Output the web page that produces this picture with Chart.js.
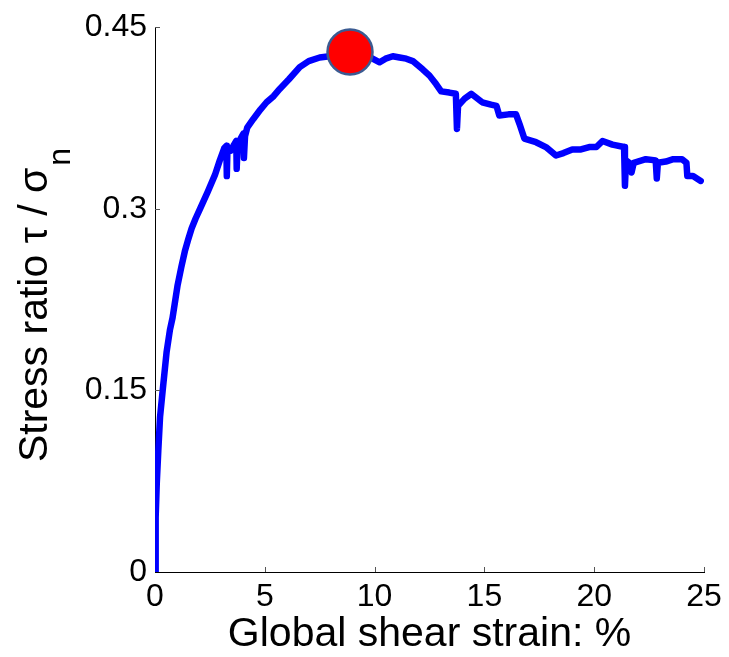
<!DOCTYPE html>
<html>
<head>
<meta charset="utf-8">
<script src="https://cdn.jsdelivr.net/npm/chart.js@4.4.0/dist/chart.umd.min.js"></script>
<style>
  body { margin: 0; background: #fff; }
  canvas { display: block; }
</style>
</head>
<body>
<canvas id="strainChart" width="729" height="657"></canvas>
<script>
// global shear strain (%) and stress ratio
const strain = [0, 0.03, 0.08, 0.15, 0.23, 0.35, 0.53, 0.68, 0.8, 1.03, 1.2, 1.36, 1.5, 1.67, 1.85, 2.05, 2.4, 2.73, 2.95,
  3.15, 3.25, 3.27, 3.3, 3.45, 3.6, 3.7, 3.72, 3.76, 3.9, 4.02, 4.05, 4.1, 4.2, 4.47, 4.8, 5.08,
  5.4, 5.68, 6.1, 6.59, 7.0, 7.5, 7.95, 8.5, 9.2, 9.8, 10.23, 10.5, 10.83, 11.14, 11.44, 11.74,
  12.2, 12.5, 12.8, 13.03, 13.4, 13.7, 13.75, 13.8, 14.1, 14.4, 14.9, 15.3, 15.55, 15.68, 16.1,
  16.44, 16.6, 16.82, 17.35, 17.8, 18.26, 18.6, 19.0, 19.4, 19.77, 20.1, 20.38, 20.83, 21.36,
  21.4, 21.45, 21.6, 21.7, 21.8, 22.35, 22.8, 22.85, 22.9, 23.26, 23.6, 24.0, 24.2, 24.24, 24.5, 24.85];
const stressRatio = [0, 0.045, 0.073, 0.1, 0.128, 0.15, 0.182, 0.2, 0.21, 0.237, 0.252, 0.265, 0.274, 0.284, 0.292, 0.3, 0.314, 0.328, 0.34,
  0.35, 0.352, 0.327, 0.35, 0.348, 0.353, 0.356, 0.333, 0.352, 0.358, 0.362, 0.342, 0.36, 0.367, 0.374, 0.382, 0.388,
  0.393, 0.399, 0.407, 0.417, 0.422, 0.425, 0.426, 0.427, 0.427, 0.425, 0.421, 0.424, 0.426, 0.425, 0.424, 0.422,
  0.415, 0.41, 0.403, 0.397, 0.396, 0.395, 0.366, 0.385, 0.391, 0.395, 0.388, 0.386, 0.385, 0.377, 0.378,
  0.378, 0.37, 0.358, 0.355, 0.351, 0.344, 0.346, 0.349, 0.349, 0.351, 0.351, 0.356, 0.353, 0.351,
  0.319, 0.34, 0.338, 0.33, 0.338, 0.341, 0.34, 0.325, 0.338, 0.339, 0.341, 0.341, 0.338, 0.327, 0.327, 0.323];

// peak marker
const peakStrain = [8.88];
const peakRatio = [0.4295];

const xTicks = [0, 5, 10, 15, 20, 25];
const yTicks = [0, 0.15, 0.3, 0.45];
const yTickLabels = ['0', '0.15', '0.3', '0.45'];

const xTitle = 'Global shear strain: %';
const yTitleMain = 'Stress ratio \u03c4 / \u03c3';
const yTitleSub = 'n';

const fontFamily = '"Liberation Sans", Arial, sans-serif';

// small tick marks pointing into the plot, like matlab
const innerTicks = {
  id: 'innerTicks',
  afterDraw(chart) {
    const ctx = chart.ctx;
    const area = chart.chartArea;
    const xs = chart.scales.x;
    const ys = chart.scales.y;
    ctx.save();
    ctx.strokeStyle = '#555';
    ctx.lineWidth = 1;
    ctx.beginPath();
    xTicks.slice(1).forEach(v => {
      const px = Math.round(xs.getPixelForValue(v)) + 0.5;
      ctx.moveTo(px, area.bottom);
      ctx.lineTo(px, area.bottom - 5);
    });
    yTicks.slice(1).forEach(v => {
      const py = Math.round(ys.getPixelForValue(v)) + 0.5;
      ctx.moveTo(area.left, py);
      ctx.lineTo(area.left + 5, py);
    });
    ctx.stroke();
    ctx.restore();
  }
};

// y title has a subscript, so draw it by hand
const yTitlePlugin = {
  id: 'yTitlePlugin',
  afterDraw(chart) {
    const ctx = chart.ctx;
    ctx.save();
    ctx.fillStyle = '#000';
    ctx.textBaseline = 'alphabetic';
    ctx.font = '41px ' + fontFamily;
    const mainW = ctx.measureText(yTitleMain).width;
    ctx.font = '32px ' + fontFamily;
    const subW = ctx.measureText(yTitleSub).width;
    const total = mainW + 2 + subW;
    ctx.translate(47, 305 + total / 2);
    ctx.rotate(-Math.PI / 2);
    ctx.font = '41px ' + fontFamily;
    ctx.fillText(yTitleMain, 0, 0);
    ctx.font = '32px ' + fontFamily;
    ctx.fillText(yTitleSub, mainW + 2, 23);
    ctx.restore();
  }
};

const ctx = document.getElementById('strainChart').getContext('2d');
new Chart(ctx, {
  type: 'scatter',
  data: {
    datasets: [
      {
        label: 'peak',
        data: peakStrain.map((x, i) => ({ x: x, y: peakRatio[i] })),
        pointRadius: 22.5,
        pointBackgroundColor: '#ff0000',
        pointBorderColor: '#3b5b92',
        pointBorderWidth: 2.5,
        order: 0
      },
      {
        label: 'stress ratio',
        data: strain.map((x, i) => ({ x: x, y: stressRatio[i] })),
        showLine: true,
        borderColor: '#0000ff',
        borderWidth: 6.5,
        borderJoinStyle: 'round',
        borderCapStyle: 'round',
        pointRadius: 0,
        tension: 0,
        order: 1
      }
    ]
  },
  options: {
    responsive: false,
    animation: false,
    layout: {
      padding: { left: 0, right: 24, top: 24, bottom: 0 }
    },
    plugins: {
      legend: { display: false },
      tooltip: { enabled: false }
    },
    scales: {
      x: {
        type: 'linear',
        min: 0,
        max: 25,
        afterBuildTicks: (scale) => { scale.ticks = xTicks.map(v => ({ value: v })); },
        afterFit: (scale) => { scale.height = 85; },
        grid: { display: false, drawTicks: false },
        border: { display: true, color: '#000', width: 1 },
        ticks: {
          padding: 6,
          color: '#000',
          font: { family: fontFamily, size: 32 },
          maxRotation: 0,
          callback: (v) => String(v)
        },
        title: {
          display: true,
          text: xTitle,
          color: '#000',
          font: { family: fontFamily, size: 41, lineHeight: 1.1 },
          padding: { top: 0, bottom: 0 }
        }
      },
      y: {
        type: 'linear',
        min: 0,
        max: 0.45,
        afterBuildTicks: (scale) => { scale.ticks = yTicks.map(v => ({ value: v })); },
        afterFit: (scale) => { scale.width = 155; },
        grid: { display: false, drawTicks: false },
        border: { display: true, color: '#000', width: 1 },
        ticks: {
          padding: 8,
          color: '#000',
          font: { family: fontFamily, size: 32 },
          callback: (v, i) => yTickLabels[i]
        }
      }
    }
  },
  plugins: [innerTicks, yTitlePlugin]
});
</script>
</body>
</html>
